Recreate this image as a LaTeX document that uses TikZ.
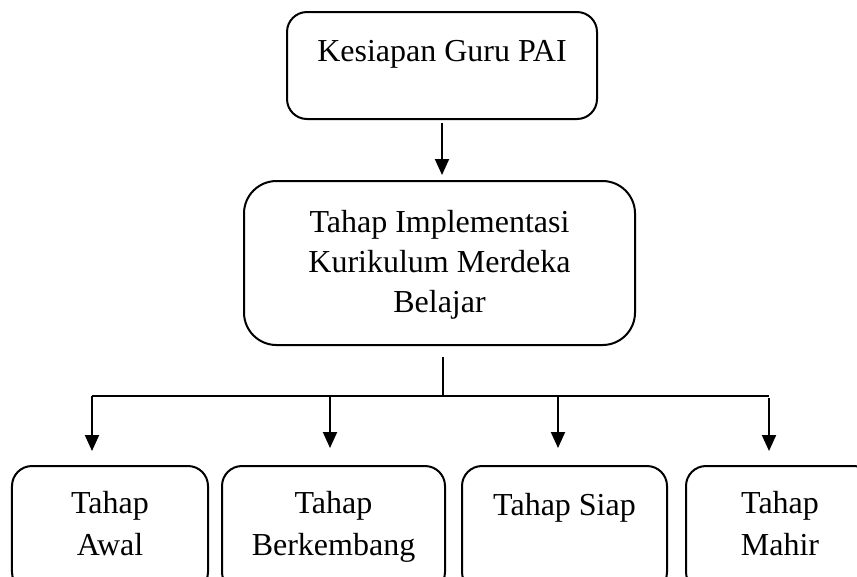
\documentclass[tikz,border=0pt]{standalone}
\usepackage{fontspec}
\setmainfont{Liberation Serif}
\usetikzlibrary{arrows.meta}
\begin{document}
\begin{tikzpicture}[x=0.4pt,y=-0.4pt,inner sep=0pt,outer sep=0pt,line width=0.8pt,
stagebox/.style={draw,rectangle,rounded corners=8pt,align=center,font=\fontsize{12.8}{16.8}\selectfont},
tip/.style={-{Triangle[width=5.6pt,length=6.4pt]}}]
\useasboundingbox (0,0) rectangle (857,576);
\draw (442,65.5) node[stagebox,minimum width=124pt,text height=19.6pt,text depth=23.2pt] (guru) {Kesiapan Guru PAI};
\draw (439.5,263) node[stagebox,rounded corners=13pt,minimum width=156.4pt,text height=52.4pt,text depth=13.2pt,
  font=\fontsize{12.8}{16}\selectfont] (impl) {Tahap Implementasi\\Kurikulum Merdeka\\Belajar};
\draw (110,529) node[stagebox,minimum width=78.4pt,text height=35.6pt,text depth=14.8pt] (awal) {Tahap\\Awal};
\draw (333.5,529) node[stagebox,minimum width=89.2pt,text height=35.6pt,text depth=14.8pt] (kembang) {Tahap\\Berkembang};
\draw (564.5,529) node[stagebox,minimum width=82pt,text height=19.6pt,text depth=30.8pt] (siap) {Tahap Siap};
\draw (780,529) node[stagebox,minimum width=75.2pt,text height=35.6pt,text depth=14.8pt] (mahir) {Tahap\\Mahir};
% branching line
\coordinate (bus) at (443,396);
\coordinate (b1) at (92,396);
\coordinate (b2) at (330,396);
\coordinate (b3) at (558,396);
\coordinate (b4) at (769,396);
\draw[tip,shorten <=1.6pt,shorten >=2.4pt] (guru.south) -- (guru.south |- impl.north);
\draw[shorten <=4.8pt] (bus |- impl.south) -- (bus);
\draw (b1) -- (b4);
\draw[tip,shorten >=6pt] (b1) -- (b1 |- awal.north);
\draw[tip,shorten >=7.2pt] (b2) -- (b2 |- kembang.north);
\draw[tip,shorten >=7.2pt] (b3) -- (b3 |- siap.north);
\draw[tip,shorten <=0.8pt,shorten >=6pt] (b4) -- (b4 |- mahir.north);
\end{tikzpicture}
\end{document}
